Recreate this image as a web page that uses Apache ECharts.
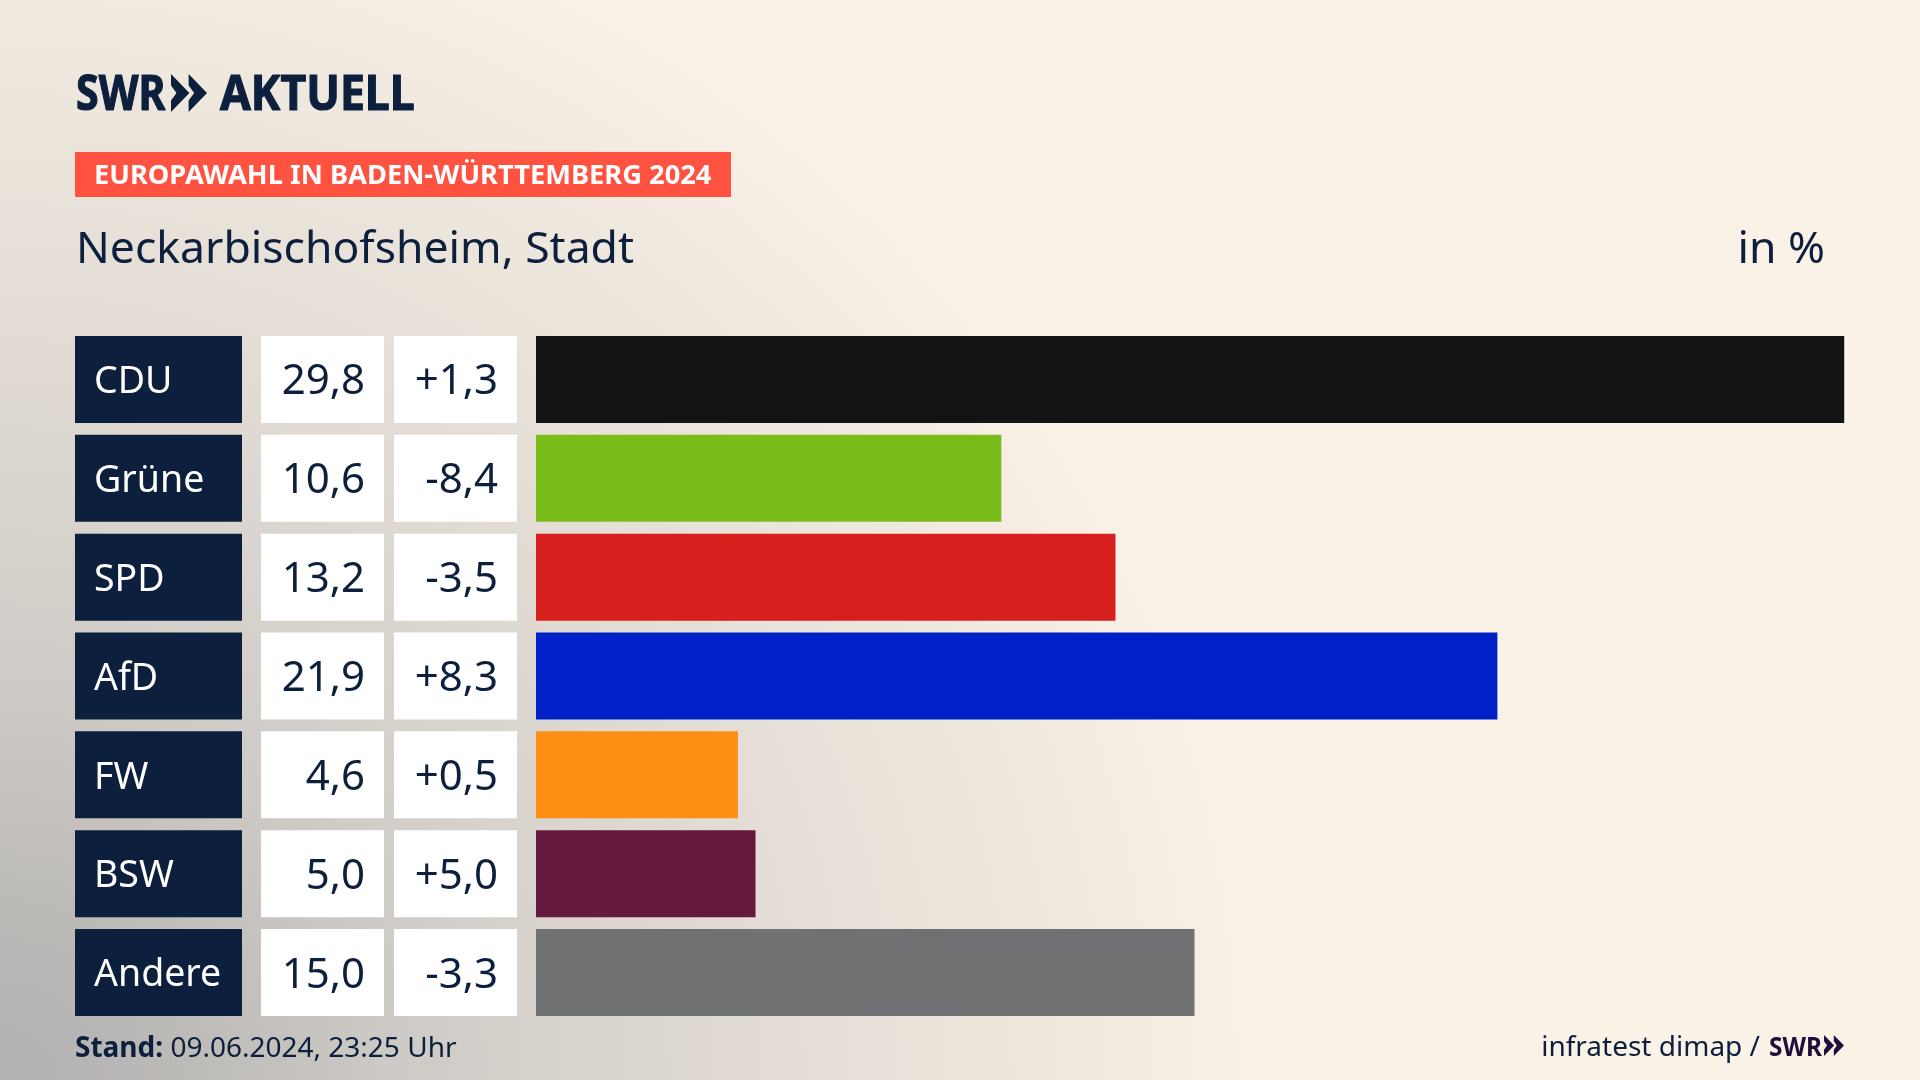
<!DOCTYPE html>
<html>
<head>
<meta charset="utf-8">
<title>Europawahl Neckarbischofsheim</title>
<script src="https://cdn.jsdelivr.net/npm/echarts@6/dist/echarts.min.js"></script>
<style>
html, body { margin: 0; padding: 0; background: #fbf2e7; }
#chart { width: 1920px; height: 1080px;
  background: radial-gradient(ellipse 1280px 1250px at 0 100%, #b2b2b2 0%, #bcbab7 14%, #cdc9c4 30%, #d9d4ce 46%, #e3ddd5 62%, #eee7de 80%, #fbf2e7 100%); }
</style>
</head>
<body>
<div id="chart"></div>
<script>
const parties = ['CDU', 'Grüne', 'SPD', 'AfD', 'FW', 'BSW', 'Andere']
const shares = [29.8, 10.6, 13.2, 21.9, 4.6, 5.0, 15.0]
const changes = [1.3, -8.4, -3.5, 8.3, 0.5, 5.0, -3.3]
const barColors = ['#131313', '#7abc1a', '#d71f1d', '#0021c7', '#ff8f14', '#65193d', '#707173']

const navy = '#0c1f3c'
const font = '"Noto Sans", sans-serif'
const gridTop = 330
const gridHeight = 692
const barHeight = 87

const chart = echarts.init(document.getElementById('chart'), null, { width: 1920, height: 1080 })

// deutsches Komma
const fmt = (v) => v.toFixed(1).replace('.', ',')
const fmtChange = (v) => (v > 0 ? '+' : '') + fmt(v)

// die drei Tabellenspalten links sind eigene Grids, gleiche Zeilen wie die Balken
const columns = [
  { left: 75, width: 167, color: navy, textColor: '#fff', pos: 'insideLeft', dist: 19, size: 37.5, text: parties },
  { left: 261, width: 123, color: '#fff', textColor: navy, pos: 'insideRight', dist: 19, size: 42, text: shares.map(fmt) },
  { left: 394, width: 123, color: '#fff', textColor: navy, pos: 'insideRight', dist: 19, size: 42, text: changes.map(fmtChange) }
]

const grids = [], xAxes = [], yAxes = [], series = []
columns.forEach((col, i) => {
  grids.push({ left: col.left, width: col.width, top: gridTop, height: gridHeight })
  xAxes.push({ gridIndex: i, type: 'value', min: 0, max: 1, show: false })
  yAxes.push({ gridIndex: i, type: 'category', data: parties, inverse: true, show: false })
  series.push({
    type: 'bar',
    xAxisIndex: i,
    yAxisIndex: i,
    silent: true,
    barWidth: barHeight,
    itemStyle: { color: col.color },
    data: parties.map((p, k) => ({
      value: 1,
      label: {
        show: true,
        position: col.pos,
        distance: col.dist,
        offset: [0, 3],
        formatter: col.text[k],
        color: col.textColor,
        fontFamily: font,
        fontSize: col.size
      }
    }))
  })
})

// die eigentlichen Balken
grids.push({ left: 536, width: 1317, top: gridTop, height: gridHeight })
xAxes.push({ gridIndex: 3, type: 'value', min: 0, max: 30, show: false })
yAxes.push({ gridIndex: 3, type: 'category', data: parties, inverse: true, show: false })
series.push({
  type: 'bar',
  xAxisIndex: 3,
  yAxisIndex: 3,
  silent: true,
  barWidth: barHeight,
  data: shares.map((v, i) => ({ value: v, itemStyle: { color: barColors[i] } }))
})

// y ist die Grundlinie, zrender misst von oben
function txt(x, y, text, size, opts) {
  opts = opts || {}
  return {
    type: 'text',
    x: x,
    y: y - size * 0.82,
    scaleX: opts.scaleX || 1,
    style: {
      text: text,
      fill: opts.color || navy,
      font: (opts.bold ? 'bold ' : '') + size + 'px ' + font,
      textAlign: opts.align || 'left',
      stroke: opts.heavy ? (opts.color || navy) : null,
      lineWidth: opts.heavy ? 1.2 : 0,
      rich: opts.rich
    }
  }
}

function chevrons(x, y, w, h, color) {
  const g = w * 0.51
  const one = (ox) => ({
    type: 'polygon',
    shape: { points: [[ox, y], [ox + g, y + h / 2], [ox, y + h], [ox, y + h * 0.7], [ox + g * 0.3, y + h / 2], [ox, y + h * 0.3]] },
    style: { fill: color }
  })
  return [one(x), one(x + w - g)]
}

const graphic = [
  txt(76, 112, 'SWR', 49, { bold: true, heavy: true, scaleX: 0.84 }),
  txt(220, 112, 'AKTUELL', 49, { bold: true, heavy: true, scaleX: 0.91 }),
  ...chevrons(171, 74, 36, 38, navy),
  { type: 'rect', shape: { x: 75, y: 152, width: 656, height: 45 }, style: { fill: '#ff5240' } },
  txt(94, 185, 'EUROPAWAHL IN BADEN-WÜRTTEMBERG 2024', 27, { bold: true, color: '#fff', scaleX: 1.01 }),
  txt(76, 264, 'Neckarbischofsheim, Stadt', 44.5),
  txt(1825, 264, 'in %', 44.5, { align: 'right' }),
  txt(75, 1058, '{b|Stand:} 09.06.2024, 23:25 Uhr', 28, {
    rich: { b: { font: 'bold 28px ' + font, fill: navy } }
  }),
  txt(1760, 1057, 'infratest dimap /', 28, { align: 'right' }),
  txt(1769, 1057, 'SWR', 27, { bold: true, color: '#1c0f3a', scaleX: 0.9 }),
  ...chevrons(1824, 1035, 20, 21, '#1c0f3a')
]

chart.setOption({
  animation: false,
  backgroundColor: 'transparent',
  grid: grids,
  xAxis: xAxes,
  yAxis: yAxes,
  series: series,
  graphic: graphic
})
</script>
</body>
</html>
